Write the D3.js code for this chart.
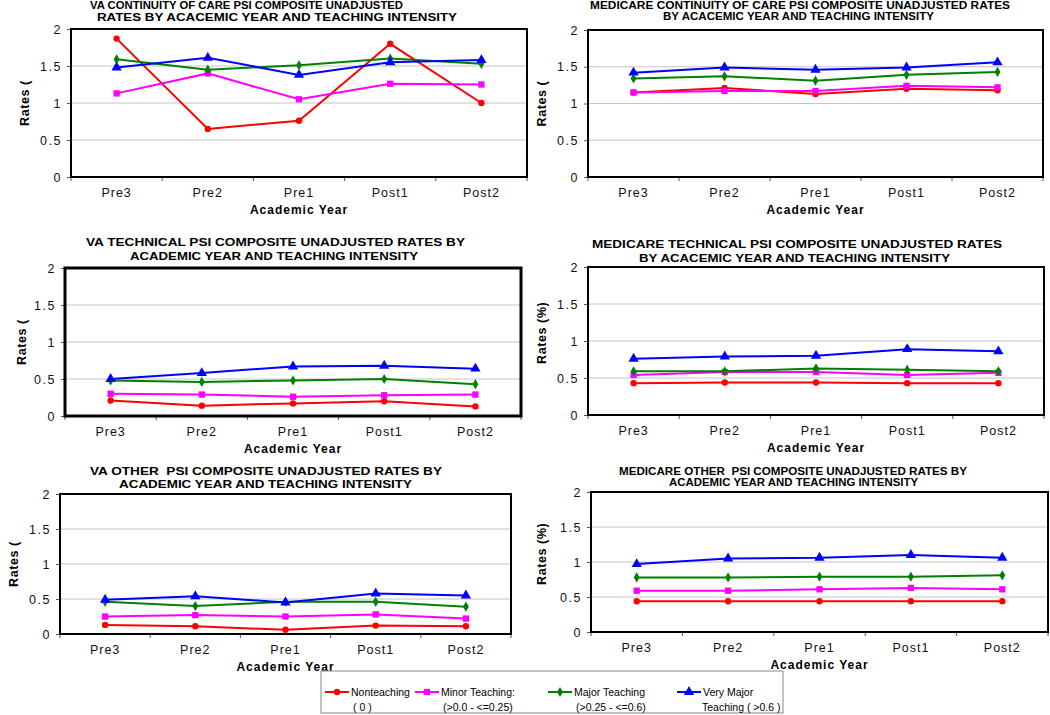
<!DOCTYPE html>
<html>
<head>
<meta charset="utf-8">
<script src="https://cdn.jsdelivr.net/npm/d3@7"></script>
<style>
  body { margin: 0; background: #fff; }
  text { font-family: "Liberation Sans", Arial, sans-serif; white-space: pre; }
</style>
</head>
<body>
<div id="chart"></div>
<script>
// categories and tick labels
var years = ["Pre3", "Pre2", "Pre1", "Post1", "Post2"];
var yTicks = [0, 0.5, 1, 1.5, 2];
var groups = ["Nonteaching", "Minor Teaching:", "Major Teaching", "Very Major"];
var groupsLine2 = ["( 0 )", "(>0.0 - <=0.25)", "(>0.25 - <=0.6)", "Teaching ( >0.6 )"];

// series values, rows = nonteaching, minor, major, very major
var vaCare = [
    [1.87, 0.65, 0.76, 1.80, 1.00],
    [1.13, 1.40, 1.05, 1.26, 1.25],
    [1.59, 1.45, 1.51, 1.60, 1.53],
    [1.48, 1.61, 1.38, 1.55, 1.58]
];
var medicareCare = [
    [1.15, 1.21, 1.13, 1.20, 1.18],
    [1.15, 1.17, 1.17, 1.24, 1.22],
    [1.34, 1.37, 1.31, 1.39, 1.43],
    [1.42, 1.49, 1.46, 1.49, 1.56]
];
var vaTechnical = [
    [0.21, 0.14, 0.17, 0.20, 0.13],
    [0.30, 0.29, 0.26, 0.28, 0.29],
    [0.48, 0.46, 0.48, 0.50, 0.43],
    [0.50, 0.58, 0.67, 0.68, 0.64]
];
var medicareTechnical = [
    [0.43, 0.44, 0.44, 0.43, 0.43],
    [0.54, 0.58, 0.58, 0.54, 0.57],
    [0.59, 0.59, 0.63, 0.61, 0.59],
    [0.76, 0.79, 0.80, 0.89, 0.86]
];
var vaOther = [
    [0.13, 0.11, 0.06, 0.12, 0.11],
    [0.25, 0.27, 0.25, 0.28, 0.22],
    [0.46, 0.40, 0.46, 0.46, 0.39],
    [0.49, 0.54, 0.45, 0.58, 0.55]
];
var medicareOther = [
    [0.44, 0.44, 0.44, 0.44, 0.44],
    [0.59, 0.59, 0.61, 0.63, 0.61],
    [0.78, 0.78, 0.79, 0.79, 0.81],
    [0.97, 1.05, 1.06, 1.10, 1.06]
];

var colors = ["#ff0000", "#ff00ff", "#008000", "#0000ff"];
var shapes = [d3.symbolCircle, d3.symbolSquare, d3.symbolDiamond, d3.symbolTriangle];
var shapeSizes = [32, 40, 30, 46];

// panel layout: plot box, title lines [text, left, right, centerY, fontSize]
var panels = [
    { data: vaCare, x0: 71, x1: 527, y0: 29, y1: 177, frame: 2, yTitle: "Rates (", yTitleX: 25,
      title: [["VA CONTINUITY OF CARE PSI COMPOSITE UNADJUSTED", 90, 403, 5, 11],
              ["RATES BY ACACEMIC YEAR AND TEACHING INTENSITY", 97, 457, 17, 11]] },
    { data: medicareCare, x0: 588, x1: 1043, y0: 30, y1: 177, frame: 2, yTitle: "Rates (", yTitleX: 542,
      title: [["MEDICARE CONTINUITY OF CARE PSI COMPOSITE UNADJUSTED RATES", 590, 1010, 5, 10],
              ["BY ACACEMIC YEAR AND TEACHING INTENSITY", 663, 934, 16, 10]] },
    { data: vaTechnical, x0: 65, x1: 521, y0: 268, y1: 416, frame: 3, yTitle: "Rates (", yTitleX: 22,
      title: [["VA TECHNICAL PSI COMPOSITE UNADJUSTED RATES BY", 86, 465, 242, 11],
              ["ACADEMIC YEAR AND TEACHING INTENSITY", 130, 418, 256, 11]] },
    { data: medicareTechnical, x0: 588, x1: 1044, y0: 267, y1: 415, frame: 2, yTitle: "Rates (%)", yTitleX: 542,
      title: [["MEDICARE TECHNICAL PSI COMPOSITE UNADJUSTED RATES", 592, 1002, 244, 11],
              ["BY ACACEMIC YEAR AND TEACHING INTENSITY", 639, 950, 258, 11]] },
    { data: vaOther, x0: 60, x1: 511, y0: 494, y1: 634, frame: 2, yTitle: "Rates (", yTitleX: 14,
      title: [["VA OTHER  PSI COMPOSITE UNADJUSTED RATES BY", 90, 442, 471, 11],
              ["ACADEMIC YEAR AND TEACHING INTENSITY", 119, 412, 484, 11]] },
    { data: medicareOther, x0: 591, x1: 1048, y0: 492, y1: 632, frame: 2, yTitle: "Rates (%)", yTitleX: 542,
      title: [["MEDICARE OTHER  PSI COMPOSITE UNADJUSTED RATES BY", 619, 967, 471, 10],
              ["ACADEMIC YEAR AND TEACHING INTENSITY", 669, 918, 482, 10]] }
];

var svg = d3.select("#chart")
            .append("svg")
            .attr("width", 1050)
            .attr("height", 715)
            .style("background-color", "white");

panels.forEach(function(p) {
    var g = svg.append("g");

    var x = d3.scaleBand()
              .domain(years)
              .range([p.x0, p.x1]);

    var y = d3.scaleLinear()
              .domain([0, 2])
              .range([p.y1, p.y0]);

    // grid lines
    g.selectAll(".grid")
     .data(yTicks.slice(1, -1))
     .enter()
     .append("line")
     .attr("x1", p.x0)
     .attr("x2", p.x1)
     .attr("y1", function(d) { return y(d); })
     .attr("y2", function(d) { return y(d); })
     .attr("stroke", "#c4c4c4")
     .attr("stroke-width", 1);

    // y axis
    var yAxis = g.append("g")
     .attr("transform", "translate(" + p.x0 + ",0)")
     .call(d3.axisLeft(y).tickValues(yTicks).tickFormat(function(d) { return d; })
             .tickSize(4).tickPadding(5));
    yAxis.select(".domain").remove();
    yAxis.selectAll("line").attr("stroke", "#555");
    yAxis.selectAll("text")
         .attr("font-size", 12.5)
         .attr("letter-spacing", 1.5)
         .attr("fill", "#111")
         .style("font-family", "'Liberation Sans', Arial, sans-serif");

    // x axis labels
    var xAxis = g.append("g")
     .attr("transform", "translate(0," + p.y1 + ")")
     .call(d3.axisBottom(x).tickSize(0).tickPadding(11));
    xAxis.select(".domain").remove();
    xAxis.selectAll("text")
         .attr("font-size", 12.5)
         .attr("letter-spacing", 1)
         .attr("fill", "#111")
         .style("font-family", "'Liberation Sans', Arial, sans-serif");

    // category boundary ticks
    var bounds = years.map(function(d) { return x(d); }).concat([p.x1]);
    g.selectAll(".xtick")
     .data(bounds)
     .enter()
     .append("line")
     .attr("x1", function(d) { return d; })
     .attr("x2", function(d) { return d; })
     .attr("y1", p.y1)
     .attr("y2", p.y1 + 4)
     .attr("stroke", "#555");

    // frame
    g.append("rect")
     .attr("x", p.x0)
     .attr("y", p.y0)
     .attr("width", p.x1 - p.x0)
     .attr("height", p.y1 - p.y0)
     .attr("fill", "none")
     .attr("stroke", "black")
     .attr("stroke-width", p.frame);

    // series
    var line = d3.line()
                 .x(function(d, i) { return x(years[i]) + x.bandwidth() / 2; })
                 .y(function(d) { return y(d); });

    p.data.forEach(function(vals, k) {
        g.append("path")
         .datum(vals)
         .attr("d", line)
         .attr("fill", "none")
         .attr("stroke", colors[k])
         .attr("stroke-width", 2);

        g.selectAll(".m" + k)
         .data(vals)
         .enter()
         .append("path")
         .attr("transform", function(d, i) {
             return "translate(" + (x(years[i]) + x.bandwidth() / 2) + "," + y(d) + ")";
         })
         .attr("d", d3.symbol().type(shapes[k]).size(shapeSizes[k]))
         .attr("fill", colors[k]);
    });

    // titles
    p.title.forEach(function(t) {
        g.append("text")
         .text(t[0])
         .attr("x", t[1])
         .attr("y", t[3] + t[4] * 0.36)
         .attr("font-size", t[4])
         .attr("font-weight", "bold")
         .attr("textLength", t[2] - t[1])
         .attr("lengthAdjust", "spacingAndGlyphs");
    });

    // axis titles
    g.append("text")
     .text("Academic Year")
     .attr("x", (p.x0 + p.x1) / 2)
     .attr("y", p.y1 + 37)
     .attr("text-anchor", "middle")
     .attr("font-size", 12)
     .attr("font-weight", "bold")
     .attr("letter-spacing", 1);

    var ty = (p.y0 + p.y1) / 2 + 23;
    g.append("text")
     .text(p.yTitle)
     .attr("transform", "translate(" + (p.yTitleX + 4) + "," + ty + ") rotate(-90)")
     .attr("font-size", 12.5)
     .attr("font-weight", "bold")
     .attr("letter-spacing", 0.6);
});

// legend
var legendX = [325, 415, 548, 677];
var legend = svg.append("g");
legend.append("rect")
      .attr("x", 321)
      .attr("y", 671)
      .attr("width", 462)
      .attr("height", 42)
      .attr("fill", "white")
      .attr("stroke", "#888")
      .attr("stroke-width", 1);

groups.forEach(function(name, k) {
    var lx = legendX[k];
    legend.append("line")
          .attr("x1", lx)
          .attr("x2", lx + 24)
          .attr("y1", 692)
          .attr("y2", 692)
          .attr("stroke", colors[k])
          .attr("stroke-width", 2);
    legend.append("path")
          .attr("transform", "translate(" + (lx + 12) + ",692)")
          .attr("d", d3.symbol().type(shapes[k]).size(shapeSizes[k]))
          .attr("fill", colors[k]);
    legend.append("text")
          .text(name)
          .attr("x", lx + 26)
          .attr("y", 696)
          .attr("font-size", 10.5);
    legend.append("text")
          .text(groupsLine2[k])
          .attr("x", lx + (k == 3 ? 25 : 28))
          .attr("y", 711)
          .attr("font-size", 10.5);
});
</script>
</body>
</html>
